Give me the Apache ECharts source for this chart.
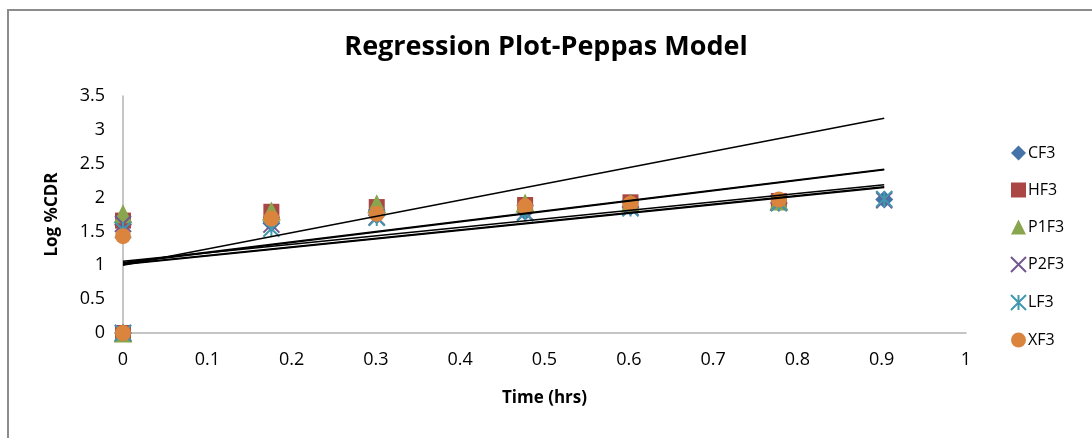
<!DOCTYPE html>
<html>
<head>
<meta charset="utf-8">
<title>Regression Plot-Peppas Model</title>
<script src="https://cdn.jsdelivr.net/npm/echarts@6/dist/echarts.min.js"></script>
<style>
  html, body { margin: 0; padding: 0; background: #fff; }
  #main { width: 1092px; height: 438px; }
</style>
</head>
<body>
<div id="main"></div>
<script>
// log time values (hrs)
var logTime = [0, 0, 0.176, 0.301, 0.477, 0.602, 0.778, 0.903];
var names = ['CF3', 'HF3', 'P1F3', 'P2F3', 'LF3', 'XF3'];
// log %CDR for every formulation, null = no point
var cf3  = [0, 1.60, 1.62, 1.74, 1.79, 1.86, 1.92, 1.97];
var hf3  = [0, 1.66, 1.79, 1.86, 1.89, 1.93, 1.95, null];
var p1f3 = [0, 1.76, 1.80, 1.91, 1.92, 1.92, 1.95, null];
var p2f3 = [0, 1.61, 1.60, 1.71, 1.78, 1.85, 1.92, 1.96];
var lf3  = [0, 1.52, 1.54, 1.70, 1.77, 1.84, 1.92, 1.98];
var xf3  = [0, 1.43, 1.69, 1.76, 1.87, 1.91, 1.97, null];
// linear trendlines: value at x=0 and at x=0.903
var trendX = [0, 0.903];
var trendStart = [1.02, 1.04, 1.00, 1.06, 1.01, 1.03];
var trendEnd   = [2.16, 2.42, 3.17, 2.19, 2.15, 2.41];
var xTicks = [0, 0.1, 0.2, 0.3, 0.4, 0.5, 0.6, 0.7, 0.8, 0.9, 1];
var yTicks = [0, 0.5, 1, 1.5, 2, 2.5, 3, 3.5];

var colors = ['#4572A7', '#AA4643', '#89A54E', '#71588F', '#4198AF', '#DB843D'];
var symbols = [
  'diamond',
  'rect',
  'triangle',
  'path://M0,0 L10,10 M10,0 L0,10',
  'path://M5,0 L5,10 M0,0 L10,10 M10,0 L0,10',
  'circle'
];
var lineMarks = [false, false, false, true, true, false];
var allValues = [cf3, hf3, p1f3, p2f3, lf3, xf3];

var chart = echarts.init(document.getElementById('main'));

//build scatter points from the arrays
function toPoints(vals) {
  var arr = [];
  for (var i = 0; i < vals.length; i++) {
    if (vals[i] !== null) arr.push([logTime[i], vals[i]]);
  }
  return arr;
}

var series = [];
for (var i = 0; i < names.length; i++) {
  var style;
  if (lineMarks[i]) {
    style = { color: 'transparent', borderColor: colors[i], borderWidth: 2, opacity: 1 };
  } else {
    style = { color: colors[i], opacity: 1 };
  }
  series.push({
    name: names[i],
    type: 'scatter',
    symbol: symbols[i],
    symbolSize: i == 2 ? 19 : (i == 0 ? 18 : 16),
    itemStyle: style,
    data: toPoints(allValues[i]),
    z: 2 + i
  });
}
for (var j = 0; j < trendStart.length; j++) {
  series.push({
    name: 'trend' + j,
    type: 'line',
    symbol: 'none',
    silent: true,
    lineStyle: { color: '#000', width: 1.5 },
    data: [[trendX[0], trendStart[j]], [trendX[1], trendEnd[j]]],
    z: 10
  });
}

var option = {
  backgroundColor: '#fff',
  animation: false,
  textStyle: { fontFamily: 'Open Sans' },
  title: {
    text: 'Regression Plot-Peppas Model',
    left: 'center',
    top: 29,
    textStyle: { fontFamily: 'Open Sans', fontSize: 27, fontWeight: 'bold', color: '#000' }
  },
  legend: {
    orient: 'vertical',
    left: 1005,
    top: 140,
    itemGap: 21,
    itemWidth: 15,
    itemHeight: 15,
    data: names,
    textStyle: { fontSize: 16, color: '#000', padding: [0, 0, 0, -3] }
  },
  grid: { left: 123, top: 96, width: 843, height: 237 },
  xAxis: {
    type: 'value',
    min: 0,
    max: 1,
    interval: 0.1,
    name: 'Time (hrs)',
    nameLocation: 'middle',
    nameGap: 57,
    nameTextStyle: { fontSize: 17, fontWeight: 'bold', color: '#000' },
    axisLine: { onZero: false, lineStyle: { color: '#b3b3b3', width: 1.5 } },
    axisTick: { show: false },
    splitLine: { show: false },
    axisLabel: {
      fontSize: 18, color: '#000', margin: 18,
      formatter: function (v) { return String(Math.round(v * 10) / 10); }
    }
  },
  yAxis: {
    type: 'value',
    min: 0,
    max: 3.5,
    interval: 0.5,
    name: 'Log %CDR',
    nameLocation: 'middle',
    nameGap: 62,
    nameRotate: 90,
    nameTextStyle: { fontSize: 17, fontWeight: 'bold', color: '#000' },
    axisLine: { show: true, lineStyle: { color: '#b3b3b3', width: 1.5 } },
    axisTick: { show: false },
    splitLine: { show: false },
    axisLabel: { fontSize: 18, color: '#000', margin: 18 }
  },
  graphic: [{
    type: 'rect',
    shape: { x: 8, y: 10, width: 1200, height: 600 },
    style: { fill: 'none', stroke: '#8c8c8c', lineWidth: 2 },
    silent: true
  }],
  series: series
};
chart.setOption(option);
</script>
</body>
</html>
